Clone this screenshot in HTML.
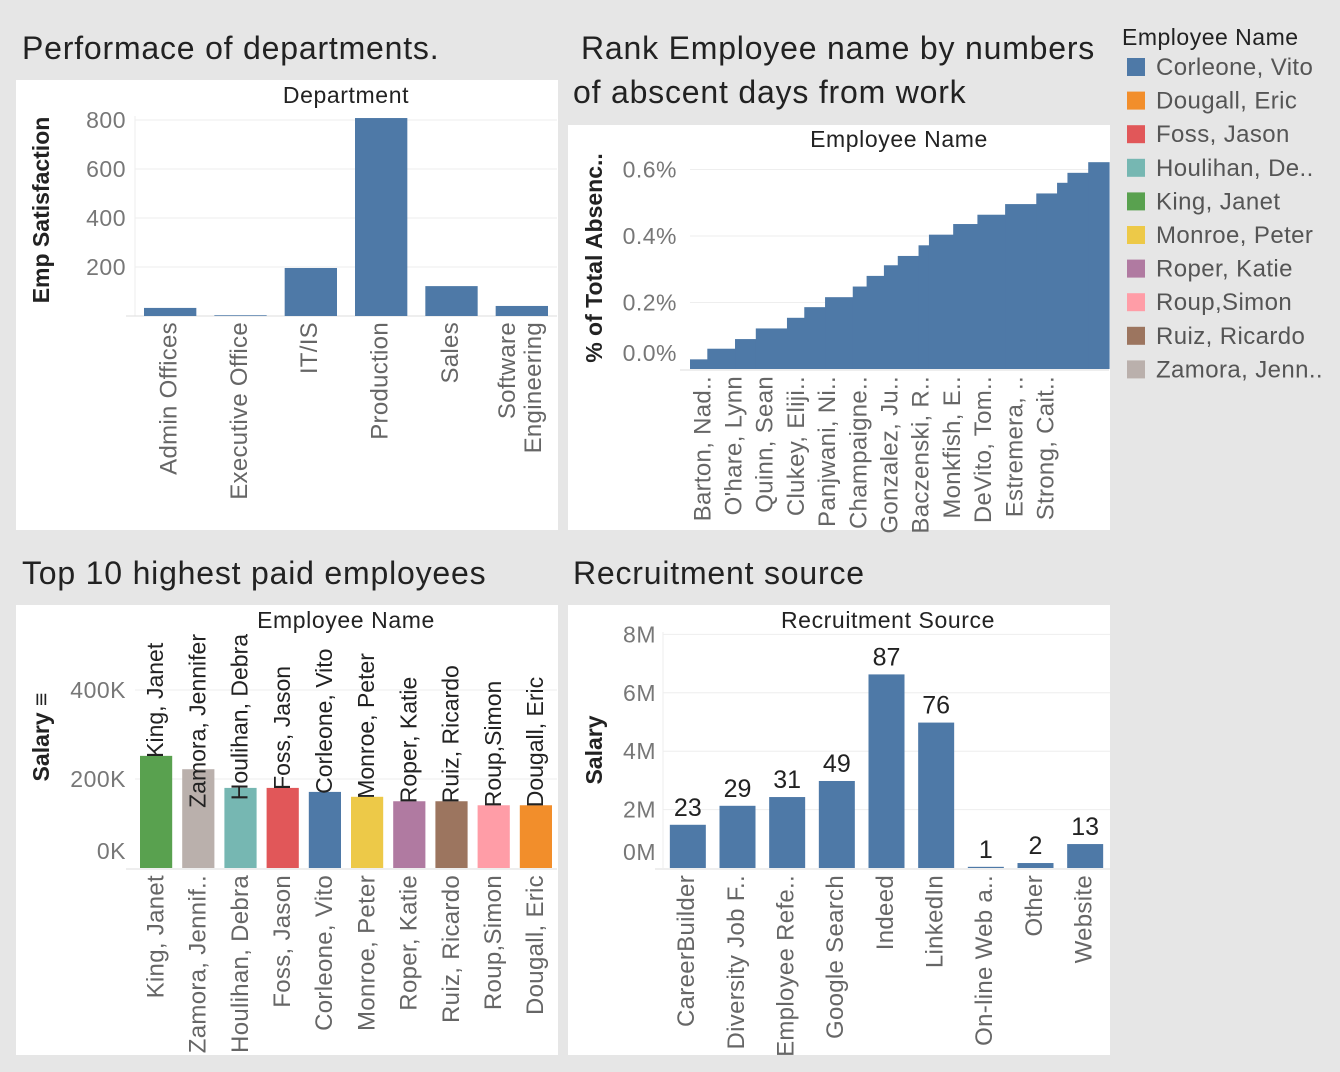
<!DOCTYPE html>
<html><head><meta charset="utf-8"><style>
body{margin:0;background:#e6e6e6;font-family:"Liberation Sans","DejaVu Sans",sans-serif;}
svg{display:block}
.t{font-size:32px;fill:#222;letter-spacing:0.8px}
.tick{font-size:23px;fill:#777;letter-spacing:0.5px}
.cat{font-size:24px;fill:#666;letter-spacing:0.3px}
.hdr{font-size:23px;fill:#222;letter-spacing:0.6px}
.bl{font-size:23px;fill:#222}
.ax{font-size:23px;fill:#222;font-weight:bold}
.grid{stroke:#eeeeee;stroke-width:1}
</style></head><body>
<svg id="s" width="1340" height="1072">
<rect width="1340" height="1072" fill="#e6e6e6"/>
<text class="t" x="22" y="59">Performace of departments.</text>
<text class="t" x="581" y="59">Rank Employee name by numbers</text>
<text class="t" x="573" y="103">of abscent days from work</text>
<text class="t" x="22" y="584">Top 10 highest paid employees</text>
<text class="t" x="573" y="584">Recruitment source</text>
<rect x="16" y="80" width="542" height="450" fill="#fff"/>
<rect x="568" y="125" width="542" height="405" fill="#fff"/>
<rect x="16" y="605" width="542" height="450" fill="#fff"/>
<rect x="568" y="605" width="542" height="450" fill="#fff"/>
<g id="g1"></g><g id="g2"></g><g id="g3"></g><g id="g4"></g><g id="leg"></g>
</svg>
<script>
const deptCats=["Admin Offices","Executive Office","IT/IS","Production","Sales","Software Engineering"];
const deptVals=[33,3,196,808,122,41];
const deptTicks=[200,400,600,800];
const absLabels=["Barton, Nad..","O'hare, Lynn","Quinn, Sean","Clukey, Eliji..","Panjwani, Ni..","Champaigne..","Gonzalez, Ju..","Baczenski, R..","Monkfish, E..","DeVito, Tom..","Estremera, ..","Strong, Cait.."];
const absCounts=[5,8,6,9,5,6,8,4,5,4,6,3,7,7,8,9,6,3,6,6];
const absVals=[0.029,0.061,0.09,0.122,0.154,0.186,0.216,0.248,0.28,0.312,0.34,0.372,0.404,0.436,0.464,0.496,0.528,0.56,0.59,0.622];
const absTicks=[0,0.2,0.4,0.6];
const salCats=["King, Janet","Zamora, Jennifer","Houlihan, Debra","Foss, Jason","Corleone, Vito","Monroe, Peter","Roper, Katie","Ruiz, Ricardo","Roup,Simon","Dougall, Eric"];
const salAxisLabels=["King, Janet","Zamora, Jennif..","Houlihan, Debra","Foss, Jason","Corleone, Vito","Monroe, Peter","Roper, Katie","Ruiz, Ricardo","Roup,Simon","Dougall, Eric"];
const salVals=[252,222,180,180,171,160,150,150,141,141];
const salTicks=[0,200,400];
const recCats=["CareerBuilder","Diversity Job F..","Employee Refe..","Google Search","Indeed","LinkedIn","On-line Web a..","Other","Website"];
const recVals=[1.48,2.13,2.43,2.98,6.63,4.98,0.04,0.17,0.82];
const recCounts=[23,29,31,49,87,76,1,2,13];
const recTicks=[0,2,4,6,8];
const legNames=["Corleone, Vito","Dougall, Eric","Foss, Jason","Houlihan, De..","King, Janet","Monroe, Peter","Roper, Katie","Roup,Simon","Ruiz, Ricardo","Zamora, Jenn.."];
const legColors=["#4e79a7","#f28e2b","#e15759","#76b7b2","#59a14f","#edc948","#b07aa1","#ff9da7","#9c755f","#bab0ac"];
const salColors=["#59a14f","#bab0ac","#76b7b2","#e15759","#4e79a7","#edc948","#b07aa1","#9c755f","#ff9da7","#f28e2b"];
const NS="http://www.w3.org/2000/svg";
function el(p,tag,at,txt){const e=document.createElementNS(NS,tag);for(const k in at)e.setAttribute(k,at[k]);if(txt!==undefined)e.textContent=txt;p.appendChild(e);return e;}
function vlabel(p,x,y,txt,cls,anchor){return el(p,'text',{x:x,y:y,class:cls,'text-anchor':anchor,transform:`rotate(-90 ${x} ${y})`,'dominant-baseline':'middle'},txt);}
const BLUE="#4e79a7";
// chart 1
(function(){const g=document.getElementById('g1');const x0=135,x1=557,base=316,k=49/200;const bw=(x1-x0)/deptCats.length;
const y=v=>base-v*k;
el(g,'text',{x:346,y:103,class:'hdr','text-anchor':'middle'},'Department');
deptTicks.forEach(t=>{const l=el(g,'line',{x1:x0,x2:x1,y1:y(t),y2:y(t),class:'grid'});
const tx=el(g,'text',{x:126,y:y(t)+8,class:'tick','text-anchor':'end'},t);});
el(g,'line',{x1:x0,x2:x0,y1:116,y2:base,stroke:'#eee'});
el(g,'line',{x1:126,x2:x1,y1:base,y2:base,stroke:'#ddd'});
deptVals.forEach((v,i)=>{const r=el(g,'rect',{x:x0+i*bw+9,y:y(v),width:bw-18,height:v*k,fill:BLUE});});
deptCats.forEach((c,i)=>{const cx=x0+i*bw+bw/2;if(c==="Software Engineering"){const a=vlabel(g,cx-13,322,'Software','cat','end');const b=vlabel(g,cx+13,322,'Engineering','cat','end');}
else{const a=vlabel(g,cx,322,c,'cat','end');}});
const yt=vlabel(g,43,210,'Emp Satisfaction','ax','middle');})();
// chart 2
(function(){const g=document.getElementById('g2');const x0=690,x1=1109,base=369,k=33.25/0.1;const total=absCounts.reduce((a,b)=>a+b,0);const u=(x1-x0)/total;
const y=v=>base-v*k;
el(g,'text',{x:899,y:147,class:'hdr','text-anchor':'middle'},'Employee Name');
absTicks.forEach(t=>{const yy=t===0?353:y(t);if(t>0)el(g,'line',{x1:x0,x2:x1,y1:yy,y2:yy,class:'grid'});
const tx=el(g,'text',{x:677,y:yy+8,class:'tick','text-anchor':'end'},t.toFixed(1)+'%');});
let cx=x0;absVals.forEach((v,i)=>{const w=absCounts[i]*u;const r=el(g,'rect',{x:cx,y:y(v),width:w+0.6,height:v*k,fill:BLUE});cx+=w;});
el(g,'line',{x1:680,x2:x1,y1:base+1,y2:base+1,stroke:'#ddd'});
absLabels.forEach((c,i)=>{const a=vlabel(g,704+i*31.2,376,c,'cat','end');});
const yt=vlabel(g,596,258,'% of Total Absenc..','ax','middle');})();
// chart 3
(function(){const g=document.getElementById('g3');const x0=135,x1=557,base=868,k=0.445;const bw=(x1-x0)/salCats.length;const y=v=>base-v*k;
el(g,'text',{x:346,y:628,class:'hdr','text-anchor':'middle'},'Employee Name');
salTicks.forEach(t=>{const yy=t===0?851:y(t);if(t>0)el(g,'line',{x1:x0,x2:x1,y1:yy,y2:yy,class:'grid'});
const tx=el(g,'text',{x:126,y:yy+8,class:'tick','text-anchor':'end'},t+'K');});
el(g,'line',{x1:126,x2:x1,y1:base+1,y2:base+1,stroke:'#ddd'});
salVals.forEach((v,i)=>{const r=el(g,'rect',{x:x0+i*bw+5,y:y(v),width:bw-10,height:v*k,fill:salColors[i]});
const cxl=x0+i*bw+bw/2+1;const lb=vlabel(g,cxl,y(v)+2,salCats[i],'bl','start');
const len=lb.getComputedTextLength();const sy=Math.max(y(v)+2,634+len);lb.setAttribute('y',sy);lb.setAttribute('transform',`rotate(-90 ${cxl} ${sy})`);});
salAxisLabels.forEach((c,i)=>{const a=vlabel(g,x0+i*bw+bw/2+1,875,c,'cat','end');});
const yt=vlabel(g,43,737,'Salary \u2261','ax','middle');})();
// chart 4
(function(){const g=document.getElementById('g4');const x0=663,x1=1110,base=868,k=29.2;const bw=(x1-x0)/recCats.length;const y=v=>base-v*k;
el(g,'text',{x:888,y:628,class:'hdr','text-anchor':'middle'},'Recruitment Source');
recTicks.forEach(t=>{const yy=t===0?852:y(t);if(t>0)el(g,'line',{x1:x0,x2:x1,y1:yy,y2:yy,class:'grid'});
const tx=el(g,'text',{x:656,y:yy+8,class:'tick','text-anchor':'end'},t+'M');});
el(g,'line',{x1:x0,x2:x0,y1:632,y2:base,stroke:'#eee'});
el(g,'line',{x1:655,x2:x1,y1:base+1,y2:base+1,stroke:'#ddd'});
recVals.forEach((v,i)=>{const cx=x0+i*bw+bw/2;const r=el(g,'rect',{x:cx-18,y:y(v),width:36,height:Math.max(v*k,1),fill:BLUE});
const lb=el(g,'text',{x:cx,y:y(v)-9,'text-anchor':'middle',style:'font-size:25px;fill:#222'},recCounts[i]);});
recCats.forEach((c,i)=>{const a=vlabel(g,x0+i*bw+bw/2,875,c,'cat','end');});
const yt=vlabel(g,596,750,'Salary','ax','middle');})();
// legend
(function(){const g=document.getElementById('leg');el(g,'text',{x:1122,y:45,style:'font-size:23px;fill:#222;letter-spacing:0.5px'},'Employee Name');
legNames.forEach((n,i)=>{const yy=58+i*33.6;const r=el(g,'rect',{x:1127,y:yy,width:18,height:18,fill:legColors[i]});
const t=el(g,'text',{x:1156,y:yy+17,style:'font-size:24px;fill:#555;letter-spacing:0.4px'},n);});})();
</script>
</body></html>
